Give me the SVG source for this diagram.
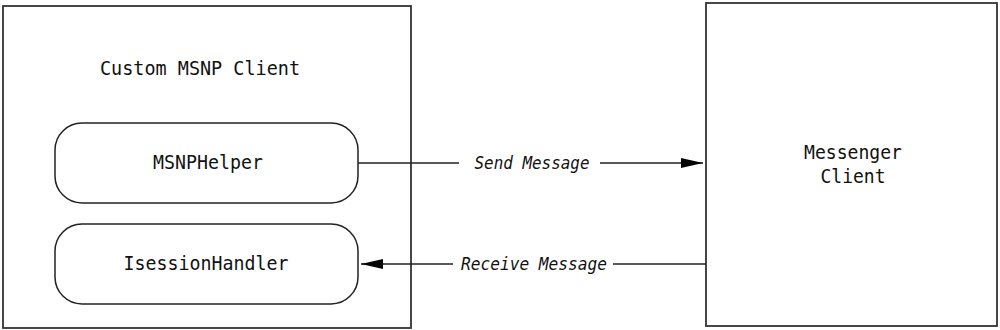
<svg xmlns="http://www.w3.org/2000/svg" width="1000" height="330" viewBox="0 0 1000 330">
<style>
.box{fill:#fff;stroke:#333;stroke-width:1.8}
.pill{fill:#fff;stroke:#222;stroke-width:1.5}
.t{font-family:"DejaVu Sans Mono","Liberation Mono",monospace;font-size:20px;fill:#111;text-anchor:middle}
.lbl{font-family:"DejaVu Sans Mono","Liberation Mono",monospace;font-size:17px;font-style:italic;fill:#111;text-anchor:middle}
.ln{stroke:#222;stroke-width:1.3;fill:none}
</style>
<defs>
<marker id="arr" viewBox="0 0 22 10" refX="22" refY="5" markerWidth="22" markerHeight="10" markerUnits="userSpaceOnUse" orient="auto">
<path d="M0,0 L22,5 L0,10 Z" fill="#000"/>
</marker>
</defs>
<g id="custom-client">
<rect class="box" x="3" y="6" width="408" height="322"/>
<text class="t" x="200" y="75" textLength="200" lengthAdjust="spacingAndGlyphs">Custom MSNP Client</text>
</g>
<g id="msnphelper">
<rect class="pill" x="55" y="123" width="303" height="80" rx="27" ry="27"/>
<text class="t" x="208" y="169" textLength="110" lengthAdjust="spacingAndGlyphs">MSNPHelper</text>
</g>
<g id="isessionhandler">
<rect class="pill" x="55" y="224" width="303" height="80" rx="27" ry="27"/>
<text class="t" x="206" y="270" textLength="165" lengthAdjust="spacingAndGlyphs">IsessionHandler</text>
</g>
<g id="messenger-client">
<rect class="box" x="706" y="3" width="291" height="323"/>
<text class="t" x="853" y="159" textLength="98" lengthAdjust="spacingAndGlyphs">Messenger</text>
<text class="t" x="853" y="183" textLength="65" lengthAdjust="spacingAndGlyphs">Client</text>
</g>
<g id="connectors">
<path class="ln" d="M358,163 H459"/>
<path class="ln" d="M600,163 H703" marker-end="url(#arr)"/>
<text class="lbl" x="532" y="169" textLength="115" lengthAdjust="spacingAndGlyphs">Send Message</text>
<path class="ln" d="M706,264 H613"/>
<path class="ln" d="M453,264 H361" marker-end="url(#arr)"/>
<text class="lbl" x="534" y="270" textLength="146" lengthAdjust="spacingAndGlyphs">Receive Message</text>
</g>
</svg>
